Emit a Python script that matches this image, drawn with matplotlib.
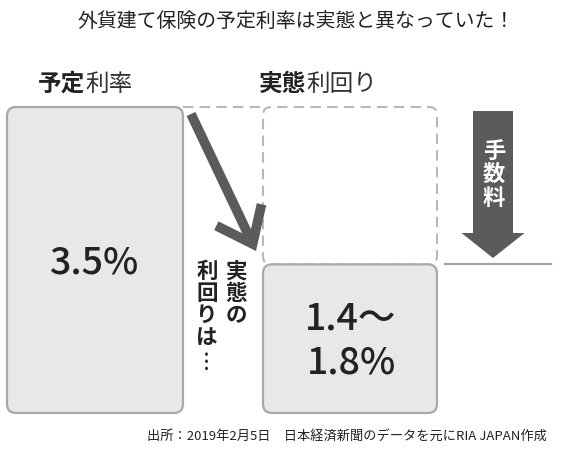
import matplotlib
matplotlib.use("Agg")
import matplotlib.pyplot as plt
from matplotlib.patches import FancyBboxPatch, FancyArrow

plt.rcParams["font.family"] = ["Noto Sans CJK JP", "DejaVu Sans"]

# values
title = "外貨建て保険の予定利率は実態と異なっていた！"
labels = [("予定", "利率"), ("実態", "利回り")]
rate_text = ["3.5%", "1.4～\n1.8%"]
planned_rate = 3.5
actual_range = [1.4, 1.8]
levels = [3.5, 1.7]          # box heights as drawn in the picture
side_note = ["実態の", "利回りは…"]
fee_label = "手数料"
source = "出所：2019年2月5日　日本経済新聞のデータを元にRIA JAPAN作成"

W, H = 571, 449
fig = plt.figure(figsize=(W / 100, H / 100), dpi=100)

box_bottom_px, box_top_px = 413, 107
ax = fig.add_axes([0, (H - box_bottom_px) / H, 1, (box_bottom_px - box_top_px) / H])
ax.set_xlim(0, W)
ax.set_ylim(0, planned_rate)
ax.axis("off")

# overlay in pixel units for texts / arrows
ov = fig.add_axes([0, 0, 1, 1], zorder=3)
ov.set_xlim(0, W)
ov.set_ylim(H, 0)
ov.axis("off")

px_per_unit = (box_bottom_px - box_top_px) / planned_rate
aspect = 1 / px_per_unit
fill = "#e8e8e8"
edge = "#a9a9a9"
dash_col = "#b8b8b8"
dark = "#5b5b5b"

bar_x = [7, 263]
bar_w = 176

# dashed outline of where the actual yield "should" be
dashed = FancyBboxPatch((bar_x[1], levels[1]), bar_w - 2, planned_rate - levels[1],
                        boxstyle="round,pad=0,rounding_size=8", mutation_aspect=aspect,
                        fc="none", ec=dash_col, lw=1.5, ls=(0, (5, 3)), clip_on=False)
ax.add_patch(dashed)
ax.plot([bar_x[0] + bar_w, bar_x[1]], [planned_rate, planned_rate],
        color=dash_col, lw=1.5, ls=(0, (5, 3)), clip_on=False)

for x, lv in zip(bar_x, levels):
    w = bar_w if x == bar_x[0] else bar_w - 2
    box = FancyBboxPatch((x, 0), w, lv, boxstyle="round,pad=0,rounding_size=9",
                         mutation_aspect=aspect, fc=fill, ec=edge, lw=1.6,
                         clip_on=False, zorder=2)
    ax.add_patch(box)

# level line next to the fee arrow
ax.plot([445, 551], [levels[1], levels[1]], color="#a5a5a5", lw=1.6, clip_on=False)

# values inside boxes
ov.text(bar_x[0] + bar_w / 2, 262, rate_text[0], ha="center", va="center",
        fontsize=27, color="#222222", weight="medium")
ov.text(bar_x[1] + bar_w / 2, 340, rate_text[1], ha="center", va="center",
        fontsize=27, color="#222222", weight="medium", linespacing=1.2)

# headings
fig.text(296 / W, 1 - 22 / H, title, ha="center", va="center", fontsize=14.3,
         color="#222222")
for lx, (b, r) in zip([38, 259], labels):
    t = fig.text(lx / W, 1 - 96 / H, b, ha="left", va="bottom", fontsize=17,
                 weight="bold", color="#222222")
    ov.annotate(r, xy=(1, 0), xycoords=t, ha="left", va="bottom", fontsize=17,
                color="#333333")

# diagonal arrow
ov.annotate("", xy=(256, 251), xytext=(191, 114),
            arrowprops=dict(arrowstyle="->,head_length=2.3,head_width=1.8",
                            lw=7, color=dark, shrinkA=0, shrinkB=0,
                            joinstyle="miter", capstyle="butt"))

# vertical side note
for cx, col in zip([236, 207], side_note):
    for i, ch in enumerate(col):
        rot = 90 if ch == "…" else 0
        ov.text(cx, 271 + 22 * i, ch, ha="center", va="center", fontsize=15.5,
                weight="bold", color="#222222", rotation=rot)

# fee arrow
ov.add_patch(FancyArrow(493, 111, 0, 147, width=40, head_width=63, head_length=25,
                        length_includes_head=True, fc=dark, ec="none"))
for i, ch in enumerate(fee_label):
    ov.text(494, 151 + 23.5 * i, ch, ha="center", va="center", fontsize=16,
            weight="bold", color="white")

# source
fig.text(547 / W, 1 - 436 / H, source, ha="right", va="center", fontsize=9.5,
         color="#222222")

fig.savefig("out.png", dpi=100)
